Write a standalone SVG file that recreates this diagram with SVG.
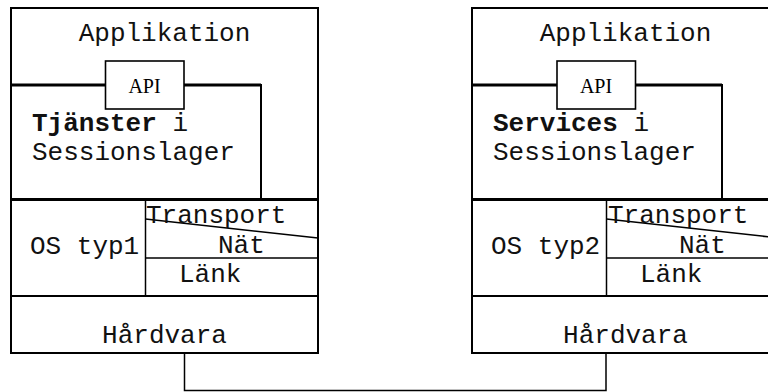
<svg xmlns="http://www.w3.org/2000/svg" width="768" height="392" viewBox="0 0 768 392">
  <style>
    .frame { fill: none; stroke: #000; stroke-width: 2; }
    .heavy { fill: none; stroke: #000; stroke-width: 3.2; }
    .thin { fill: none; stroke: #000; stroke-width: 1.5; }
    .api { fill: #fff; stroke: #000; stroke-width: 1.6; }
    .mono { font-family: "Liberation Mono", "Courier New", monospace; font-size: 26px; fill: #111; }
    .serif { font-family: "Liberation Serif", "Times New Roman", serif; font-size: 20px; fill: #000; }
    .b { font-weight: bold; }
  </style>

  <!-- Host 1 -->
  <g id="host1">
    <rect class="frame" x="11" y="8" width="307" height="345"/>
    <g id="host1-app">
      <text class="mono" x="164.5" y="41" text-anchor="middle">Applikation</text>
    </g>
    <g id="host1-session">
      <path class="heavy" d="M11 85 H105.5 M184 85 H261"/>
      <path class="frame" d="M261 84 V199"/>
      <text class="mono b" x="32" y="131">Tjänster<tspan font-weight="normal"> i</tspan></text>
      <text class="mono" x="32" y="160">Sessionslager</text>
    </g>
    <g id="host1-api">
      <rect class="api" x="105.5" y="61" width="78.5" height="48"/>
      <text class="serif" x="144.5" y="93" text-anchor="middle">API</text>
    </g>
    <g id="host1-os">
      <path class="heavy" d="M11 199.5 H318"/>
      <path class="thin" d="M145.5 199 V296"/>
      <text class="mono" x="30" y="254">OS typ1</text>
    </g>
    <g id="host1-transport">
      <path class="thin" d="M145.5 219 L318 238"/>
      <text class="mono" x="146" y="223">Transport</text>
    </g>
    <g id="host1-nat">
      <path class="thin" d="M145.5 258 H318"/>
      <text class="mono" x="218" y="253">Nät</text>
    </g>
    <g id="host1-link">
      <text class="mono" x="179" y="281.5">Länk</text>
    </g>
    <g id="host1-hw">
      <path class="frame" d="M11 296 H318"/>
      <text class="mono" x="164.5" y="342.5" text-anchor="middle">Hårdvara</text>
    </g>
  </g>

  <!-- Host 2 -->
  <g id="host2">
    <rect class="frame" x="472" y="8" width="307" height="345"/>
    <g id="host2-app">
      <text class="mono" x="625.5" y="41" text-anchor="middle">Applikation</text>
    </g>
    <g id="host2-session">
      <path class="heavy" d="M472 85 H557 M635.5 85 H722"/>
      <path class="frame" d="M722 84 V199"/>
      <text class="mono b" x="493" y="131">Services<tspan font-weight="normal"> i</tspan></text>
      <text class="mono" x="493" y="160">Sessionslager</text>
    </g>
    <g id="host2-api">
      <rect class="api" x="557" y="61" width="78.5" height="48"/>
      <text class="serif" x="596" y="93" text-anchor="middle">API</text>
    </g>
    <g id="host2-os">
      <path class="heavy" d="M472 199.5 H779"/>
      <path class="thin" d="M606.5 199 V296"/>
      <text class="mono" x="491" y="254">OS typ2</text>
    </g>
    <g id="host2-transport">
      <path class="thin" d="M606.5 219 L779 238"/>
      <text class="mono" x="608" y="223">Transport</text>
    </g>
    <g id="host2-nat">
      <path class="thin" d="M606.5 258 H779"/>
      <text class="mono" x="679" y="253">Nät</text>
    </g>
    <g id="host2-link">
      <text class="mono" x="640" y="281.5">Länk</text>
    </g>
    <g id="host2-hw">
      <path class="frame" d="M472 296 H779"/>
      <text class="mono" x="625.5" y="342.5" text-anchor="middle">Hårdvara</text>
    </g>
  </g>

  <!-- Physical link between the two hosts -->
  <g id="connectors">
    <path class="thin" d="M184.5 353 V390.5 H606 V353"/>
  </g>
</svg>
